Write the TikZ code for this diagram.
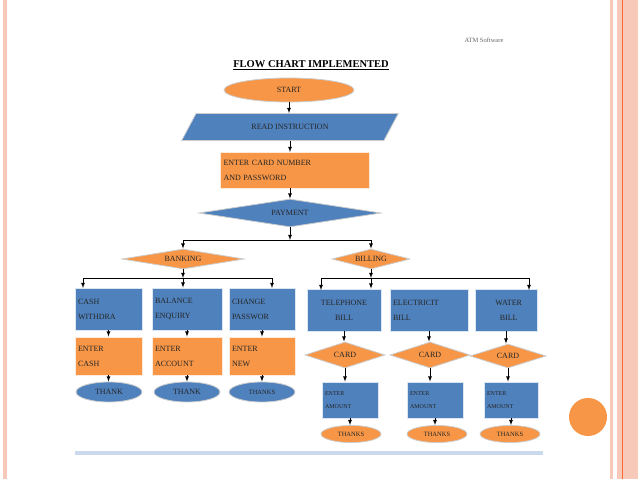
\documentclass[tikz,border=0pt]{standalone}
\usepackage{fontspec}
\setmainfont{Liberation Serif}
\usetikzlibrary{shapes.geometric}
\definecolor{bluebox}{HTML}{4F81BD}
\definecolor{orangebox}{HTML}{F79646}
\definecolor{slidepink}{HTML}{F6C9B8}
\tikzset{
  bbox/.style={fill=bluebox,draw=white!80!bluebox,thick,minimum height=42pt,inner sep=3pt,font=\fontsize{8}{15}\selectfont,align=left,text=black!85},
  obox/.style={fill=orangebox,draw=white!80!orangebox,thick,inner sep=3pt,font=\fontsize{8}{15}\selectfont,align=left,text=black!85},
  oval/.style={ellipse,draw=white!80!black,thick,inner sep=0pt,font=\fontsize{6.5}{6.5}\selectfont,text=black!85},
  dia/.style={diamond,aspect=3.5,draw=white!80!black,thick,inner sep=1pt,font=\fontsize{8}{8}\selectfont,text=black!85},
  arr/.style={>=latex,->,thick}
}
\begin{document}
\begin{tikzpicture}[x=1pt,y=-1pt]
\useasboundingbox (0,0) rectangle (638,479);
% slide frame
\fill[slidepink] (3,0) rectangle (7,479);
\fill[slidepink] (610,0) rectangle (613,479);
\fill[slidepink] (617,0) rectangle (638,479);
\draw[orangebox!70!red,thin] (622,0) -- (622,479);
\fill[orangebox] (588,417) circle (19);

\node[font=\fontsize{6.5}{6.5}\selectfont,text=black!60] (atm) at (484,40) {ATM Software};
\node[font=\bfseries\fontsize{10.5}{11}\selectfont] (title) at (311,65) {\underline{FLOW CHART IMPLEMENTED}};

\node[oval,fill=orangebox,minimum width=130pt,minimum height=24pt,font=\fontsize{8}{8}\selectfont] (start) at (289,90) {START};
\node[trapezium,trapezium left angle=62,trapezium right angle=118,fill=bluebox,draw=white!80!black,thick,
  minimum width=210pt,minimum height=27pt,font=\fontsize{8}{8}\selectfont,text=black!85] (read) at (290,127) {READ INSTRUCTION};
\node[obox,text width=143pt,minimum height=36pt] (card) at (295,170) {ENTER CARD NUMBER\\AND PASSWORD};
\node[dia,fill=bluebox,minimum width=182pt,minimum height=28pt] (pay) at (290,213) {PAYMENT};

\node[dia,fill=orangebox,minimum width=122pt,minimum height=20pt] (bank) at (183,259) {BANKING};
\node[dia,fill=orangebox,minimum width=78pt,minimum height=20pt] (bill) at (371,259) {BILLING};

\coordinate (split) at (290,240);
\draw[arr] (start.south) -- (start.south |- read.north);
\draw[arr] (290,141) -- (290,152);
\draw[arr] (290,188) -- (pay.north);
\draw[arr] (pay) -- (split);
\draw[thick] (bank.north |- split) -- (bill.north |- split);
\draw[arr] (bank.north |- split) -- (bank.north);
\draw[arr] (bill.north |- split) -- (bill.north);

% banking branch
\node[bbox,text width=61pt] (cash) at (108.5,309) {CASH\\WITHDRA};
\node[bbox,text width=64pt] (bal) at (187,309) {BALANCE\\ENQUIRY};
\node[bbox,text width=60pt] (chg) at (262,309) {CHANGE\\PASSWOR};
\node[obox,text width=61pt,minimum height=38pt] (ecash) at (108.5,356) {ENTER\\CASH};
\node[obox,text width=64pt,minimum height=38pt] (eacc) at (187,356) {ENTER\\ACCOUNT};
\node[obox,text width=60pt,minimum height=38pt] (enew) at (262,356) {ENTER\\NEW};
\node[oval,fill=bluebox,minimum width=66pt,minimum height=20pt,font=\fontsize{8}{8}\selectfont] (t1) at (109,392) {THANK};
\node[oval,fill=bluebox,minimum width=66pt,minimum height=20pt,font=\fontsize{8}{8}\selectfont] (t2) at (187,392) {THANK};
\node[oval,fill=bluebox,minimum width=66pt,minimum height=20pt] (t3) at (262,392) {THANKS};

\coordinate (bsplit) at (183,278);
\draw[arr] (bank.south) -- (bsplit);
\draw[thick] (83,278) -- (272,278);
\draw[arr] (83,278) -- (83,288);
\draw[arr] (bsplit) -- (bsplit |- bal.north);
\draw[arr] (272,278) -- (272,288);
\foreach \a/\b in {cash/ecash,bal/eacc,chg/enew,ecash/t1,eacc/t2,enew/t3}
  \draw[arr] (\a.south) -- (\a.south |- \b.north);

% billing branch
\node[bbox,text width=68pt,align=center] (tel) at (344,310) {TELEPHONE\\BILL};
\node[bbox,text width=72pt] (ele) at (429,310) {ELECTRICIT\\BILL};
\node[bbox,text width=56pt,align=center] (wat) at (506,310) {\ \ WATER\\\ \ BILL};
\node[dia,fill=orangebox,minimum width=80pt,minimum height=26pt] (c1) at (345,355) {CARD};
\node[dia,fill=orangebox,minimum width=80pt,minimum height=26pt] (c2) at (430,355) {CARD};
\node[dia,fill=orangebox,minimum width=76pt,minimum height=24pt] (c3) at (508,356) {CARD};
\node[bbox,text width=50pt,minimum height=36pt,font=\fontsize{6}{13}\selectfont] (a1) at (350,400) {ENTER\\AMOUNT};
\node[bbox,text width=50pt,minimum height=36pt,font=\fontsize{6}{13}\selectfont] (a2) at (435,400) {ENTER\\AMOUNT};
\node[bbox,text width=48pt,minimum height=36pt,font=\fontsize{6}{13}\selectfont] (a3) at (511,400) {ENTER\\AMOUNT};
\node[oval,fill=orangebox,minimum width=60pt,minimum height=17pt] (k1) at (351,434) {THANKS};
\node[oval,fill=orangebox,minimum width=60pt,minimum height=17pt] (k2) at (437,434) {THANKS};
\node[oval,fill=orangebox,minimum width=60pt,minimum height=17pt] (k3) at (510,434) {THANKS};

\coordinate (lsplit) at (371,278);
\draw[arr] (bill.south) -- (lsplit);
\draw[thick] (321,278) -- (529,278);
\draw[arr] (321,278) -- (321,290);
\draw[arr] (lsplit) -- (lsplit |- ele.north);
\draw[arr] (529,278) -- (529,290);
\foreach \a/\b in {tel/c1,ele/c2,wat/c3,c1/a1,c2/a2,c3/a3,a1/k1,a2/k2,a3/k3}
  \draw[arr] (\a.south) -- (\a.south |- \b.north);

\fill[bluebox!30] (75,451) rectangle (543,455);
\end{tikzpicture}
\end{document}
